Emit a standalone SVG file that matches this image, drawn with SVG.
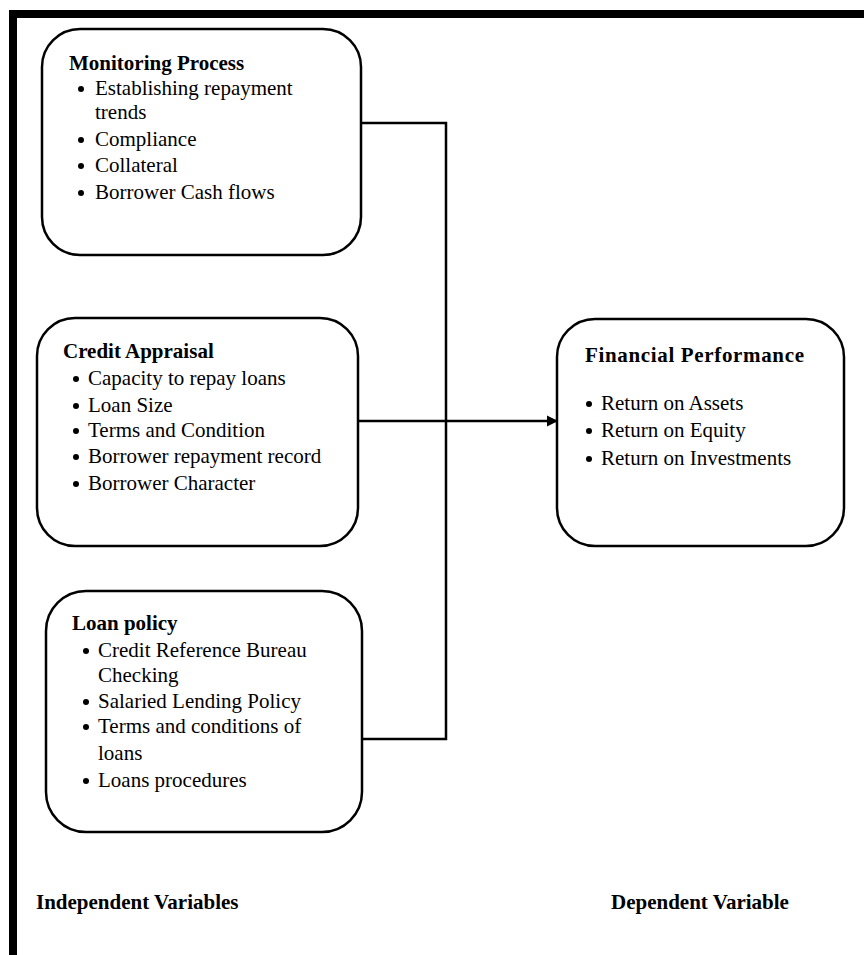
<svg xmlns="http://www.w3.org/2000/svg" width="864" height="955" viewBox="0 0 864 955">
<defs>
<style>
.box{fill:#fff;stroke:#000;stroke-width:2.5}
.t{font-family:"Liberation Serif","Times New Roman",serif;font-size:21px;fill:#000}
.b{font-weight:bold}
.dot{fill:#000}
.con{fill:none;stroke:#000;stroke-width:2.5}
</style>
<marker id="arr" viewBox="0 0 10 10" refX="10" refY="5" markerWidth="4.5" markerHeight="4.5" orient="auto" markerUnits="strokeWidth">
<path d="M0,0 L10,5 L0,10 z" fill="#000"/>
</marker>
</defs>
<rect width="864" height="955" fill="#fff"/>
<g id="frame">
<rect x="9" y="10" width="855" height="8" fill="#000"/>
<rect x="9" y="10" width="8" height="945" fill="#000"/>
</g>
<g id="connectors">
<polyline class="con" points="361,123 446,123 446,739 362,739"/>
<line class="con" x1="358" y1="421" x2="558" y2="421" marker-end="url(#arr)"/>
</g>
<g id="monitoring">
<rect class="box" x="42" y="29" width="319" height="226" rx="38"/>
<text class="t b" x="69" y="70">Monitoring Process</text>
<circle class="dot" cx="81" cy="89" r="3"/>
<text class="t" x="95" y="95">Establishing repayment</text>
<text class="t" x="95" y="119">trends</text>
<circle class="dot" cx="81" cy="140" r="3"/>
<text class="t" x="95" y="146">Compliance</text>
<circle class="dot" cx="81" cy="166" r="3"/>
<text class="t" x="95" y="172">Collateral</text>
<circle class="dot" cx="81" cy="193" r="3"/>
<text class="t" x="95" y="199">Borrower Cash flows</text>
</g>
<g id="credit">
<rect class="box" x="37" y="318" width="321" height="228" rx="38"/>
<text class="t b" x="63" y="358">Credit Appraisal</text>
<circle class="dot" cx="76" cy="379" r="3"/>
<text class="t" x="88" y="385">Capacity to repay loans</text>
<circle class="dot" cx="76" cy="406" r="3"/>
<text class="t" x="88" y="412">Loan Size</text>
<circle class="dot" cx="76" cy="431" r="3"/>
<text class="t" x="88" y="437">Terms and Condition</text>
<circle class="dot" cx="76" cy="457" r="3"/>
<text class="t" x="88" y="463">Borrower repayment record</text>
<circle class="dot" cx="76" cy="484" r="3"/>
<text class="t" x="88" y="490">Borrower Character</text>
</g>
<g id="loan">
<rect class="box" x="46" y="591" width="316" height="241" rx="40"/>
<text class="t b" x="72" y="630">Loan policy</text>
<circle class="dot" cx="86" cy="651" r="3"/>
<text class="t" x="98" y="657">Credit Reference Bureau</text>
<text class="t" x="98" y="682">Checking</text>
<circle class="dot" cx="86" cy="702" r="3"/>
<text class="t" x="98" y="708">Salaried Lending Policy</text>
<circle class="dot" cx="86" cy="727" r="3"/>
<text class="t" x="98" y="733">Terms and conditions of</text>
<text class="t" x="98" y="760">loans</text>
<circle class="dot" cx="86" cy="781" r="3"/>
<text class="t" x="98" y="787">Loans procedures</text>
</g>
<g id="financial">
<rect class="box" x="557" y="319" width="287" height="227" rx="38"/>
<text class="t b" x="585" y="362" textLength="219" lengthAdjust="spacing">Financial Performance</text>
<circle class="dot" cx="589" cy="404" r="3"/>
<text class="t" x="601" y="410">Return on Assets</text>
<circle class="dot" cx="589" cy="431" r="3"/>
<text class="t" x="601" y="437">Return on Equity</text>
<circle class="dot" cx="589" cy="459" r="3"/>
<text class="t" x="601" y="465">Return on Investments</text>
</g>
<g id="labels">
<text class="t b" x="36" y="909">Independent Variables</text>
<text class="t b" x="611" y="909">Dependent Variable</text>
</g>
</svg>
